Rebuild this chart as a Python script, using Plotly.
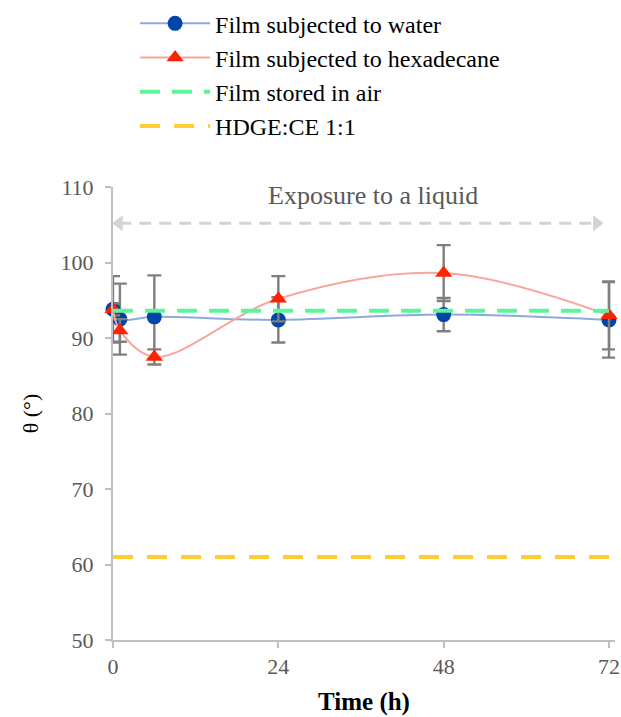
import plotly.graph_objects as go

time_h = [0, 1, 6, 24, 48, 72]
water = [93.8, 92.5, 92.8, 92.4, 93.1, 92.4]
water_err = [4.4, 4.7, 5.5, 3.0, 2.2, 5.0]
hexa = [93.8, 91.0, 87.5, 95.2, 98.6, 93.0]
hexa_err = [0.8, 1.5, 1.0, 3.0, 3.7, 4.5]
air_level = 93.6
hdge_level = 61.0
x_span = [0, 72]
arrow_y = 105.2
arrow_x = [0.9, 70.2]
arrow_text = "Exposure to a liquid"
x_ticks = [0, 24, 48, 72]
y_ticks = [50, 60, 70, 80, 90, 100, 110]

SERIF = "Liberation Serif, Times New Roman, serif"
GRAY_ERR = "#7F7F7F"

fig = go.Figure()

fig.add_trace(go.Scatter(
    x=time_h, y=water, mode="lines+markers", name="Film subjected to water",
    line=dict(color="#8EAADB", width=2, shape="spline", smoothing=1.0),
    marker=dict(symbol="circle", size=15, color="#0046AA"),
    error_y=dict(type="data", array=water_err, color=GRAY_ERR, thickness=2.4, width=7),
    cliponaxis=False,
))
fig.add_trace(go.Scatter(
    x=time_h, y=hexa, mode="lines+markers", name="Film subjected to hexadecane",
    line=dict(color="#F9A59C", width=2, shape="spline", smoothing=1.0),
    marker=dict(symbol="triangle-up", size=15, color="#FF2200"),
    error_y=dict(type="data", array=hexa_err, color=GRAY_ERR, thickness=2.4, width=7),
    cliponaxis=False,
))
fig.add_trace(go.Scatter(
    x=x_span, y=[air_level, air_level], mode="lines", name="Film stored in air",
    line=dict(color="#5CF59A", width=4, dash="20px,12px"),
))
fig.add_trace(go.Scatter(
    x=x_span, y=[hdge_level, hdge_level], mode="lines", name="HDGE:CE 1:1",
    line=dict(color="#FFCC33", width=4, dash="20px,14px"),
))
# double-headed dashed arrow
fig.add_trace(go.Scatter(
    x=arrow_x, y=[arrow_y, arrow_y], mode="lines+markers", showlegend=False,
    line=dict(color="#D3D3D3", width=3, dash="12px,8px"),
    marker=dict(symbol=["triangle-left", "triangle-right"], size=14, color="#D3D3D3"),
    hoverinfo="skip", cliponaxis=False,
))

fig.add_annotation(x=37.7, y=108.9, text=arrow_text, showarrow=False,
                   yanchor="middle", font=dict(family=SERIF, size=26, color="#595959"))

fig.update_layout(
    width=621, height=717,
    margin=dict(l=113, r=6, t=187, b=77, autoexpand=False),
    paper_bgcolor="white", plot_bgcolor="white",
    font=dict(family=SERIF, size=22, color="#595959"),
    showlegend=True,
    legend=dict(x=0.044, y=1.41, xanchor="left", yanchor="top",
                font=dict(family=SERIF, size=24, color="black"),
                traceorder="normal", itemwidth=70,
                bgcolor="rgba(0,0,0,0)"),
    xaxis=dict(range=[0, 72.87], tickvals=x_ticks, showgrid=False, zeroline=False,
               automargin=False,
               showline=True, linecolor="#BFBFBF", linewidth=2,
               ticks="outside", tickcolor="#BFBFBF", ticklen=6, tickwidth=2,
               tickfont=dict(family=SERIF, size=22, color="#595959"),
               title=dict(text="<b>Time (h)</b>", standoff=14,
                          font=dict(family=SERIF, size=25, color="black"))),
    yaxis=dict(range=[50, 110], tickvals=y_ticks, showgrid=False, zeroline=False,
               automargin=False,
               showline=True, linecolor="#BFBFBF", linewidth=2,
               ticks="outside", tickcolor="#BFBFBF", ticklen=6, tickwidth=2,
               ticklabelstandoff=7,
               tickfont=dict(family=SERIF, size=22, color="#595959"),
               title=dict(text="θ (°)", standoff=16,
                          font=dict(family=SERIF, size=22, color="black"))),
)

fig.write_html(
    "out.html",
    config={"displayModeBar": False},
    post_script="document.body.style.margin='0';document.body.style.overflow='hidden';",
)
